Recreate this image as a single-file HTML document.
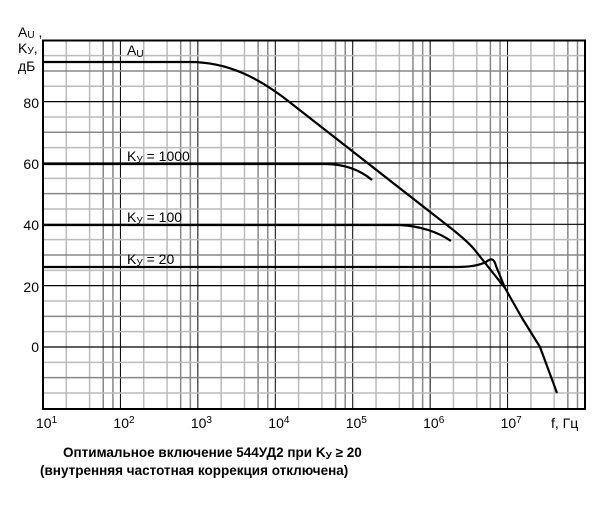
<!DOCTYPE html>
<html><head><meta charset="utf-8">
<style>
html,body{margin:0;padding:0;background:#fff;}
svg{display:block;font-family:"Liberation Sans",Arial,sans-serif;}
</style></head>
<body>
<svg id="s" width="614" height="512" viewBox="0 0 614 512" xmlns="http://www.w3.org/2000/svg">
<g id="grid"></g>
<rect x="43" y="40.5" width="542" height="368.5" fill="none" stroke="#000" stroke-width="2"/>
<g fill="none" stroke="#000" stroke-width="2.2" stroke-linejoin="round">
<path d="M43,62 L190,62 C230,62 260,80 283,97 L452,229 C462,237 468,242 474,249 L505,288 L522,318 L540,347 L557,393"/>
<path d="M43,164 L325,164 C345,164 360,170 372,180"/>
<path d="M43,225 L400,225 C420,226 438,232 451,241"/>
<path d="M43,267 L457,267 C472,267 480,265 486,262 C491,258 494,258 496,266 L505,288"/>
</g>
<g font-size="14" fill="#000">
<text x="127" y="55">A<tspan font-size="10" dy="2">U</tspan></text>
<text x="127" y="161">K<tspan font-size="10" dy="2">У</tspan><tspan dy="-2"> = 1000</tspan></text>
<text x="127" y="222">K<tspan font-size="10" dy="2">У</tspan><tspan dy="-2"> = 100</tspan></text>
<text x="127" y="264">K<tspan font-size="10" dy="2">У</tspan><tspan dy="-2"> = 20</tspan></text>
<text x="18" y="37">A<tspan font-size="10" dy="1">U</tspan><tspan dy="-1"> ,</tspan></text>
<text x="18" y="53">K<tspan font-size="10" dy="1">У</tspan><tspan dy="-1">,</tspan></text>
<text x="18" y="71">дБ</text>
<g text-anchor="end">
<text x="39" y="108">80</text>
<text x="39" y="169">60</text>
<text x="39" y="230">40</text>
<text x="39" y="292">20</text>
<text x="39" y="352">0</text>
</g>
<g id="xl"></g>
<text x="551" y="428">f, Гц</text>
</g>
<g font-size="13.5" font-weight="bold" fill="#000">
<text x="63" y="457">Оптимальное включение 544УД2 при K<tspan font-size="10" dy="2">У</tspan><tspan dy="-2"> ≥ 20</tspan></text>
<text x="40" y="475">(внутренняя частотная коррекция отключена)</text>
</g>
</svg>
<script>
var ns="http://www.w3.org/2000/svg",g=document.getElementById('grid'),xl=document.getElementById('xl');
function ln(x1,y1,x2,y2,c,w){var l=document.createElementNS(ns,'line');l.setAttribute('x1',x1);l.setAttribute('y1',y1);l.setAttribute('x2',x2);l.setAttribute('y2',y2);l.setAttribute('stroke',c);l.setAttribute('stroke-width',w);g.appendChild(l);}
var L=43,R=585,T=40.5,B=409,D=(R-L)/7;
var cols={2:'#bbb',4:'#bbb',6:'#888',8:'#888'};
for(var d=0;d<7;d++){var x0=L+D*d;if(d>0)ln(x0,T,x0,B,'#000',1);
for(var k=2;k<=8;k+=2){var x=L+D*(d+Math.log10(k));ln(x,T,x,B,cols[k],1.5);}
var t=document.createElementNS(ns,'text');t.setAttribute('x',L+D*d-7);t.setAttribute('y',428);t.innerHTML='10<tspan font-size="10" dy="-5">'+(d+1)+'</tspan>';xl.appendChild(t);}
for(var db=-20;db<=100;db+=5){var y=347-3.067*db;if(y<T+1||y>B-1)continue;if(db%20==0)ln(L,y,R,y,'#000',1.2);else ln(L,y,R,y,(db%10==0)?'#888':'#bbb',1.5);}
</script>
</body></html>
